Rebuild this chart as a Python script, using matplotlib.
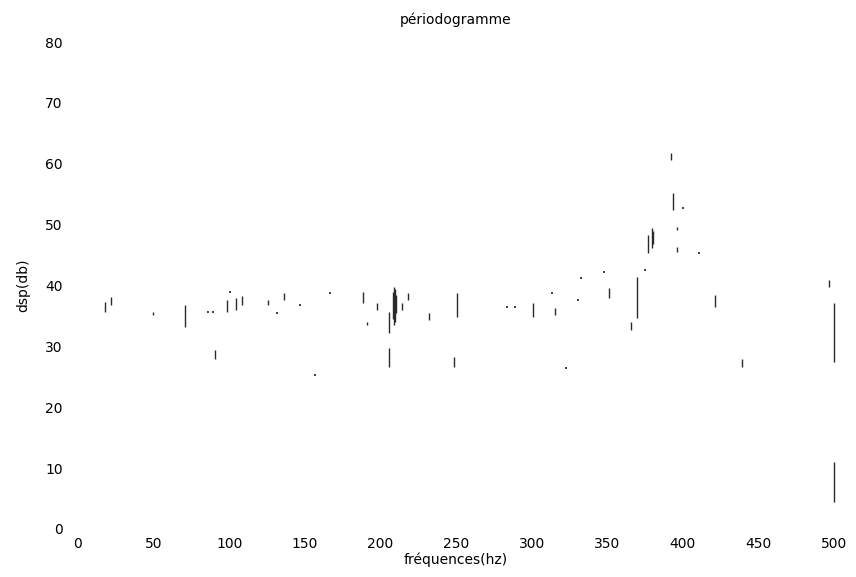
import numpy as np
import matplotlib.pyplot as plt

# visible fragments of the (faded) periodogram trace
# vertical strokes: frequency (Hz), low and high dB
seg_hz = [18, 21.8, 49.6, 70.8, 98.5, 104.5, 108.5, 125.7, 136, 90.6,
          188.5, 197.8, 191, 205.7, 205.7, 208.2, 208.8, 209.4, 210.0, 214, 218, 232,
          250.7, 248.7, 301, 315.5, 351, 370, 365.7, 377, 379.3, 380,
          392, 393.5, 396, 396, 421, 439, 497, 500, 500]
seg_lo = [35.6, 36.8, 35.2, 33.2, 35.6, 36.0, 36.8, 36.8, 37.6, 28.0,
          37.1, 36.0, 33.5, 32.2, 26.6, 34.5, 33.5, 34.0, 35.5, 36.0, 37.6, 34.3,
          34.8, 26.6, 34.8, 35.2, 37.9, 34.7, 32.7, 45.3, 46.2, 46.8,
          60.6, 52.4, 49.1, 45.5, 36.5, 26.6, 39.8, 27.4, 4.4]
seg_hi = [37.3, 38.1, 35.6, 36.8, 37.6, 38.0, 38.3, 37.6, 38.8, 29.4,
          38.9, 37.1, 34.0, 35.6, 29.7, 39.0, 39.8, 39.5, 38.5, 37.1, 38.8, 35.5,
          38.8, 28.3, 37.1, 36.3, 39.6, 41.4, 34.0, 48.3, 49.4, 49.0,
          61.8, 55.2, 49.6, 46.3, 38.4, 28.0, 40.9, 37.1, 11.0]

# isolated specks
dot_hz = [86, 89, 100.5, 131.6, 146.8, 156.7, 166.7, 284, 289, 313.5,
          323, 330.7, 333, 347.9, 375, 400, 411]
dot_db = [35.6, 35.6, 39.0, 35.5, 36.8, 25.3, 38.8, 36.5, 36.4, 38.8,
          26.4, 37.6, 41.2, 42.2, 42.5, 52.7, 45.3]

x_ticks = np.arange(0, 501, 50)
y_ticks = np.arange(0, 81, 10)

fig = plt.figure(figsize=(8.56, 5.77), dpi=100)
ax = fig.add_axes([78 / 856, 1 - 529 / 577, 756 / 856, 487 / 577])

ax.vlines(seg_hz, seg_lo, seg_hi, colors='#2a2a2a', linewidth=1.0, clip_on=False)
ax.scatter(dot_hz, dot_db, s=2, marker='s', color='#444444', linewidths=0,
           clip_on=False)

ax.set_xlim(0, 500)
ax.set_ylim(0, 80)
ax.set_xticks(x_ticks)
ax.set_yticks(y_ticks)
ax.tick_params(axis='x', length=0, pad=6, labelsize=10)
ax.tick_params(axis='y', length=0, pad=11, labelsize=10)
for s in ax.spines.values():
    s.set_visible(False)

ax.set_title('périodogramme', fontsize=10, pad=13)
ax.set_xlabel('fréquences(hz)', fontsize=10, labelpad=1)
ax.set_ylabel('dsp(db)', fontsize=10, labelpad=11)

fig.savefig('out.png', dpi=100)
